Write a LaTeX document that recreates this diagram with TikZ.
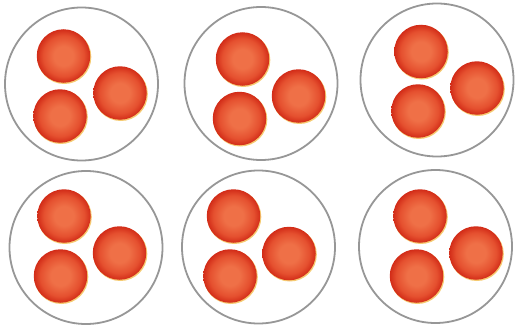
\documentclass[tikz,border=0pt]{standalone}
\definecolor{rimc}{HTML}{F6CB72}
\definecolor{ballin}{HTML}{EF7047}
\definecolor{ballmid}{HTML}{E5502F}
\definecolor{ballout}{HTML}{D22C18}
\definecolor{dishc}{HTML}{979797}
\pgfdeclareradialshading{ballshade}{\pgfpoint{0bp}{0bp}}{%
  color(0bp)=(ballin); color(9bp)=(ballin); color(19bp)=(ballmid);
  color(25bp)=(ballout); color(50bp)=(ballout)}
\begin{document}
\begin{tikzpicture}[x=1pt,y=-1pt,
  dish/.style={circle,draw=dishc,line width=1.8pt,fill=white,minimum size=153pt,inner sep=0pt},
  ballrim/.style={circle,fill=rimc,minimum size=54pt,inner sep=0pt},
  ball/.style={circle,shading=ballshade,minimum size=53.5pt,inner sep=0pt}]
\useasboundingbox (0,0) rectangle (518,329);
\fill[white] (0,0) rectangle (518,329);
% dishes
\node[dish] (d1) at (81.5,84) {};
\node[dish] (d2) at (261,83.5) {};
\node[dish] (d3) at (437,80) {};
\node[dish] (d4) at (86,247.5) {};
\node[dish] (d5) at (258.5,247) {};
\node[dish] (d6) at (435.5,246.5) {};
% balls
\foreach \n/\x/\y in {
  a1/63.5/56, b1/120/93, c1/60/116,
  a2/242.5/59, b2/298.5/96, c2/239.5/118.5,
  a3/421/51.5, b3/477/88, c3/418/111,
  a4/64/216, b4/119.5/253, c4/60.5/276,
  a5/233.5/216, b5/289/253.5, c5/230/276,
  a6/420/216, b6/476/253, c6/416.5/276}{
  \node[ballrim] (r\n) at (\x+0.8,\y+1.0) {};
  \node[ball] (\n) at (\x,\y) {};
}
\end{tikzpicture}
\end{document}
